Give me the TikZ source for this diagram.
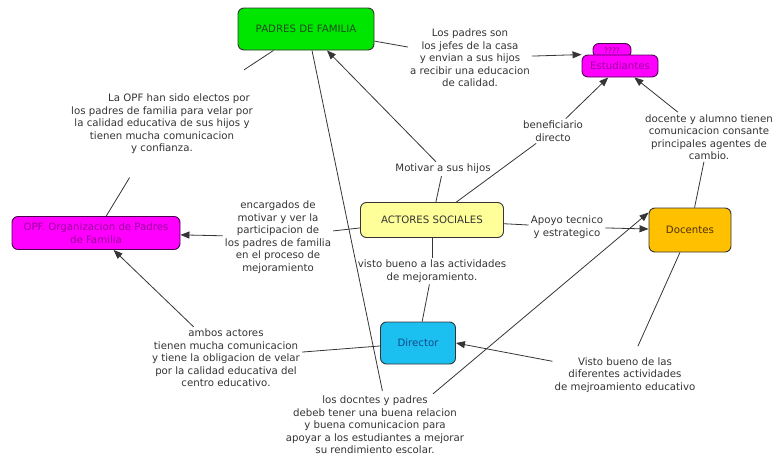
\documentclass[tikz,border=0pt]{standalone}
\usepackage{fontspec}
\setmainfont{DejaVu Sans}
\usetikzlibrary{arrows.meta,calc}
\definecolor{ln}{HTML}{353535}
\definecolor{txt}{HTML}{333333}
\definecolor{pgreen}{HTML}{00E600}
\definecolor{pgtxt}{HTML}{1E4D1E}
\definecolor{mag}{HTML}{FF00FF}
\definecolor{magd}{HTML}{4D004D}
\definecolor{magt}{HTML}{9A009A}
\definecolor{yel}{HTML}{FFFF99}
\definecolor{org}{HTML}{FFC000}
\definecolor{orgt}{HTML}{4D3300}
\definecolor{cya}{HTML}{1CC0F0}
\definecolor{cyat}{HTML}{0C4A8A}
\begin{document}
\begin{tikzpicture}[x=1pt,y=-1pt,
  every node/.style={font=\fontsize{10.2}{12.5}\selectfont},
  box/.style={draw=ln, line width=0.9pt, rounded corners=6pt, align=center, inner sep=2pt},
  lab/.style={align=center, text=txt, inner sep=2pt},
  con/.style={draw=ln, line width=0.8pt},
  arr/.style={con, -{Triangle[length=9pt,width=7pt]}}]
\useasboundingbox (0,0) rectangle (777,458);

% concept boxes
\node[box, fill=mag, draw=magd, text=magt!80!black, minimum width=38pt, minimum height=14pt, inner sep=1pt, font=\fontsize{7.5}{8}\selectfont] (q) at (612,50.5) {????};
\node[box, fill=mag, draw=magd, text=magt, minimum width=76pt, minimum height=22pt] (estud) at (620,66) {Estudiantes};
\node[box, fill=pgreen, text=pgtxt, minimum width=136pt, minimum height=42pt] (padres) at (306,29) {PADRES DE FAMILIA};
\node[box, fill=mag, draw=magd, text=magt, minimum width=168pt, minimum height=33pt] (opf) at (96,233) {OPF. Organizacion de Padres\\de Familia};
\node[box, fill=yel, text=txt, minimum width=143pt, minimum height=35pt] (actores) at (432,220) {ACTORES SOCIALES};
\node[box, fill=org, text=orgt, minimum width=82pt, minimum height=44pt] (docentes) at (690,230) {Docentes};
\node[box, fill=cya, text=cyat, minimum width=75pt, minimum height=42pt] (director) at (418,343) {Director};

% linking phrases
\node[lab] (lpadres) at (470,58) {Los padres son\\los jefes de la casa\\y envian a sus hijos\\a recibir una educacion\\de calidad.};
\node[lab] (lopf) at (162,124) {\hspace*{34pt}La OPF han sido electos por\\los padres de familia para velar por\\la calidad educativa de sus hijos y\\tienen mucha comunicacion\\y confianza.};
\node[lab] (lbenef) at (553,131) {beneficiario\\directo};
\node[lab] (lmot) at (443,169) {Motivar a sus hijos};
\node[lab] (ldoc) at (709,137) {docente y alumno tienen\\comunicacion consante\\principales agentes de\\cambio.};
\node[lab] (lenc) at (278,237) {encargados de\\motivar y ver la\\participacion de\\los padres de familia\\en el proceso de\\mejoramiento};
\node[lab] (lapoyo) at (567,227) {Apoyo tecnico\\y estrategico};
\node[lab] (lvis1) at (432,271) {visto bueno a las actividades\\de mejoramiento.};
\node[lab] (lambos) at (226,358) {ambos actores\\tienen mucha comunicacion\\y tiene la obligacion de velar\\por la calidad educativa del\\centro educativo.};
\node[lab] (lvis2) at (625,375) {Visto bueno de las\\diferentes actividades\\de mejroamiento educativo};
\node[lab] (ldocn) at (375,425) {los docntes y padres\\debeb tener una buena relacion\\y buena comunicacion para\\apoyar a los estudiantes a mejorar\\su rendimiento escolar.};

% connectors
\draw[con] (padres) -- (lpadres);
\draw[arr] (lpadres) -- (estud.north west);
\draw[con, shorten >=40pt] (padres) -- (lopf);
\draw[con, shorten <=25pt] (lopf) -- (opf);
\draw[arr] (lenc) -- (opf);
\draw[con] (actores) -- (lenc);
\draw[con] (actores) -- (lmot);
\draw[arr] (lmot) -- (padres);
\draw[con] (actores) -- (lbenef);
\draw[arr] (lbenef) -- (estud);
\draw[arr] (ldoc) -- (estud);
\draw[con] (ldoc) -- (docentes);
\draw[con] (actores) -- (lapoyo);
\draw[arr] (lapoyo) -- (docentes);
\draw[con] (actores) -- (lvis1);
\draw[con] (lvis1) -- (director);
\draw[con] (director) -- (lambos);
\draw[arr] (lambos) -- (opf);
\draw[con, shorten >=10pt] (docentes) -- (lvis2);
\draw[arr] (lvis2) -- (director.east);
\draw[con, shorten >=3pt] ([xshift=6pt]padres.south) -- ([xshift=8pt]ldocn.north);
\draw[arr] ([xshift=58pt]ldocn.north) -- ([yshift=-5pt]docentes.north west);
\end{tikzpicture}
\end{document}
